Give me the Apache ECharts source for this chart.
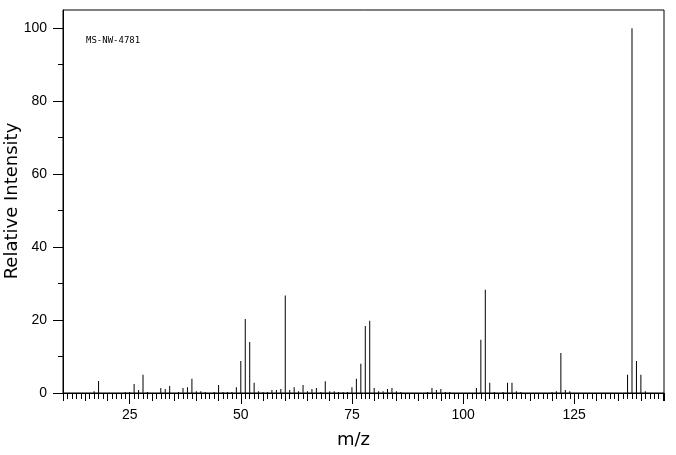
<!DOCTYPE html>
<html lang="en">
<head>
    <meta charset="UTF-8">
    <title>MS-NW-4781</title>
    <script src="https://cdn.jsdelivr.net/npm/echarts@6/dist/echarts.min.js"></script>
    <style>
        html, body {
            margin: 0;
            padding: 0;
            width: 100%;
            height: 100%;
            background: #fff;
            overflow: hidden;
        }
        #spectrum {
            width: 676px;
            height: 455px;
        }
    </style>
</head>
<body>
<div id="spectrum"></div>
<script>
    // peaks
    var mzValues = [17, 18, 24, 25, 26, 27, 28, 29, 32, 33, 34, 36, 37, 38, 39, 40, 41, 42, 44, 45,
        46, 47, 48, 49, 50, 51, 52, 53, 54, 55, 56, 57, 58, 59, 60, 61, 62, 63, 64, 65,
        66, 67, 68, 69, 70, 71, 72, 73, 74, 75, 76, 77, 78, 79, 80, 81, 82, 83, 84, 85,
        86, 92, 93, 94, 95, 96, 97, 103, 104, 105, 106, 107, 109, 110, 111, 112, 113, 120, 121, 122,
        123, 124, 137, 138, 139, 140, 141];
    var intensities = [0.5, 3.3, 0.3, 0.3, 2.5, 0.8, 5.0, 0.3, 1.4, 1.1, 1.9, 0.3, 1.4, 1.6, 3.9, 0.5, 0.5, 0.3, 0.3, 2.2,
        0.3, 0.3, 0.3, 1.6, 8.8, 20.3, 14.0, 2.8, 0.5, 0.3, 0.3, 0.8, 0.8, 1.1, 26.7, 0.8, 1.6, 0.5, 2.2, 0.5,
        1.1, 1.4, 0.3, 3.2, 0.5, 0.5, 0.3, 0.3, 0.3, 1.6, 3.9, 8.0, 18.4, 19.8, 1.4, 0.5, 0.5, 1.1, 1.4, 0.5,
        0.3, 0.3, 1.4, 0.8, 1.1, 0.3, 0.3, 1.4, 14.6, 28.3, 2.8, 0.3, 0.3, 2.8, 2.8, 0.5, 0.3, 0.3, 0.5, 11.0,
        0.8, 0.5, 5.0, 100, 8.8, 5.0, 0.5];
    var xLabelTicks = [25, 50, 75, 100, 125];
    var yLabelTicks = [0, 20, 40, 60, 80, 100];
    var spectrumId = 'MS-NW-4781';

    var peaks = mzValues.map(function (mz, i) {
        return [mz, intensities[i]];
    });

    var chart = echarts.init(document.getElementById('spectrum'));
    var font = 'Liberation Sans';
    var nameFont = 'DejaVu Sans';

    chart.setOption({
        animation: false,
        backgroundColor: '#fff',
        grid: {
            left: 63, top: 10, right: 12, bottom: 62,
            outerBoundsMode: 'none', containLabel: false,
            show: true, borderColor: '#000', borderWidth: 1
        },
        graphic: [{
            type: 'text',
            left: 86, top: 36,
            style: {text: spectrumId, font: '9px "DejaVu Sans Mono"', fill: '#000'}
        }, {
            // y axis title, placed by hand so it does not get pushed off the page
            type: 'text',
            x: 12, y: 201,
            rotation: Math.PI / 2,
            style: {
                text: 'Relative Intensity',
                font: '18px "DejaVu Sans"', fill: '#000',
                align: 'center', verticalAlign: 'middle'
            }
        }],
        xAxis: [{
            type: 'value',
            min: 10, max: 145.2, interval: 5,
            name: 'm/z', nameLocation: 'middle', nameGap: 38,
            nameTextStyle: {fontFamily: nameFont, fontSize: 18, color: '#000', padding: [0, 20, 0, 0]},
            splitLine: {show: false},
            axisLine: {lineStyle: {color: '#000', width: 1}},
            axisTick: {length: 8, lineStyle: {color: '#000'}},
            minorTick: {show: true, splitNumber: 5, length: 6, lineStyle: {color: '#000'}},
            axisLabel: {
                customValues: xLabelTicks, margin: 15,
                fontFamily: font, fontSize: 14, color: '#000'
            }
        }, {
            type: 'value',
            min: 10, max: 145.2,
            position: 'bottom',
            splitLine: {show: false},
            axisLine: {show: false},
            axisTick: {customValues: xLabelTicks, length: 11, lineStyle: {color: '#000'}},
            axisLabel: {show: false}
        }],
        yAxis: {
            type: 'value',
            min: 0, max: 105, interval: 20,
            splitLine: {show: false},
            axisLine: {show: true, lineStyle: {color: '#000', width: 1}},
            axisTick: {customValues: yLabelTicks, length: 10, lineStyle: {color: '#000'}},
            minorTick: {show: true, splitNumber: 2, length: 5, lineStyle: {color: '#000'}},
            axisLabel: {
                customValues: yLabelTicks, margin: 16,
                fontFamily: font, fontSize: 14, color: '#000'
            }
        },
        series: [{
            type: 'bar',
            xAxisIndex: 0,
            data: peaks,
            barWidth: 1,
            itemStyle: {color: '#000'},
            silent: true
        }]
    });
</script>
</body>
</html>
